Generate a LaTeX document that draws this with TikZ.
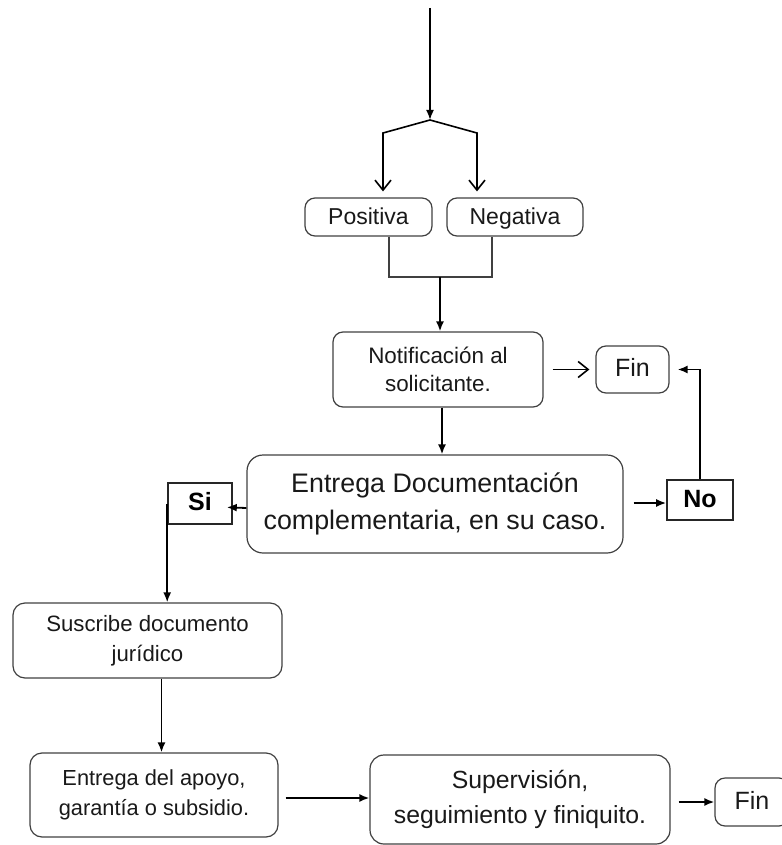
\documentclass[tikz,border=0pt]{standalone}
\usepackage{fontspec}
\setmainfont{Liberation Sans}
\usetikzlibrary{arrows.meta}

\newcommand{\boxsize}[2]{\fontsize{#1}{#2}\selectfont}

\begin{document}
\begin{tikzpicture}[x=0.5pt, y=-0.5pt,
    box/.style={draw=black!75, line width=0.6pt, rounded corners=5pt,
        align=center, inner sep=0pt, text=black!90},
    oneline/.style={text height=0.72em, text depth=0em},
    sqbox/.style={draw=black!85, line width=0.8pt, inner sep=0pt, oneline,
        font=\boxsize{12.5}{14}\bfseries},
    arr/.style={-{Latex[length=5pt,width=4pt]}, line width=0.9pt},
    oarr/.style={-{Straight Barb[length=5pt,width=8pt]}, line width=0.8pt}]

    % --- 1. CANVAS ---
    \useasboundingbox (0,0) rectangle (781,845);

    % --- 2. BOXES (centres in pixels of the original) ---
    \node[box, oneline, minimum width=63.5pt, minimum height=19pt, font=\boxsize{11.5}{13}]
        (pos) at (368.5,217) {Positiva};
    \node[box, oneline, minimum width=68pt, minimum height=19pt, font=\boxsize{11.5}{13}]
        (neg) at (515,217) {Negativa};
    \node[box, minimum width=105pt, minimum height=37.5pt, font=\boxsize{11.2}{14}]
        (notif) at (438,369.5) {Notificación al\\solicitante.};
    \node[box, oneline, minimum width=36.5pt, minimum height=23.5pt, font=\boxsize{12.5}{14}]
        (finA) at (632.5,369.5) {Fin};
    \node[box, rounded corners=8pt, minimum width=188pt, minimum height=49pt,
        font=\boxsize{13.4}{18.5}]
        (entrega) at (435,504) {Entrega Documentación\\complementaria, en su caso.};
    \node[sqbox, minimum width=32pt, minimum height=20.5pt] (si) at (200,503.5) {Si};
    \node[sqbox, minimum width=33pt, minimum height=20pt] (no) at (700,500) {No};
    \node[box, rounded corners=6pt, minimum width=134.5pt, minimum height=37.5pt,
        font=\boxsize{11.1}{15}]
        (suscribe) at (147.5,640.5) {Suscribe documento\\jurídico};
    \node[box, rounded corners=6pt, minimum width=124pt, minimum height=42pt,
        font=\boxsize{10.9}{15}]
        (apoyo) at (154,795) {Entrega del apoyo,\\garantía o subsidio.};
    \node[box, rounded corners=7pt, minimum width=150pt, minimum height=44.5pt,
        font=\boxsize{12.4}{17.5}]
        (superv) at (520,799.5) {Supervisión,\\seguimiento y finiquito.};
    \node[box, oneline, minimum width=37pt, minimum height=24pt, font=\boxsize{12.5}{14}]
        (finB) at (752,802) {Fin};

    % --- 3. BRANCH AT THE TOP ---
    \coordinate (start) at (430,8);
    \coordinate (split) at (430,120);
    \coordinate (brL) at (383,133);
    \coordinate (brR) at (477,133);
    \draw[arr] (start) -- (split);
    \draw[oarr, shorten >=3pt] (split) -- (brL) -- (brL |- pos.north);
    \draw[oarr, shorten >=3pt] (split) -- (brR) -- (brR |- neg.north);

    % --- 4. JOIN AND MAIN FLOW ---
    \coordinate (joinL) at (389,277);
    \coordinate (joinR) at (492,277);
    \coordinate (joinM) at (440,277);
    \draw[line width=0.6pt, black!75] (joinL |- pos.south) -- (joinL) -- (joinR) -- (joinR |- neg.south);
    \draw[arr] (joinM) -- (joinM |- notif.north);
    \draw[oarr, shorten <=4.5pt, shorten >=3pt] (notif.east) -- (finA.west);
    \draw[arr] ([xshift=2pt]notif.south) -- ([xshift=2pt]notif.south |- entrega.north);

    % --- 5. SI / NO ---
    \draw[arr, shorten <=5pt] ([yshift=-1.5pt]no.west -| entrega.east) -- ([yshift=-1.5pt]no.west);
    \draw[arr, shorten >=4pt] (no.north) |- (finA.east);
    \draw[arr, shorten >=-3pt] ([yshift=-2pt]entrega.west) -- ([yshift=-2pt]si.east);
    \draw[arr] (si.west) -- (si.west |- suscribe.north);

    % --- 6. LOWER ROW ---
    \draw[arr] ([xshift=7pt]suscribe.south) -- ([xshift=7pt]suscribe.south |- apoyo.north);
    \draw[arr, shorten <=3.5pt] ([yshift=-1.5pt]apoyo.east) -- ([yshift=-1.5pt]apoyo.east -| superv.west);
    \draw[arr, shorten <=4pt] (superv.east |- finB.west) -- (finB.west);

\end{tikzpicture}
\end{document}
